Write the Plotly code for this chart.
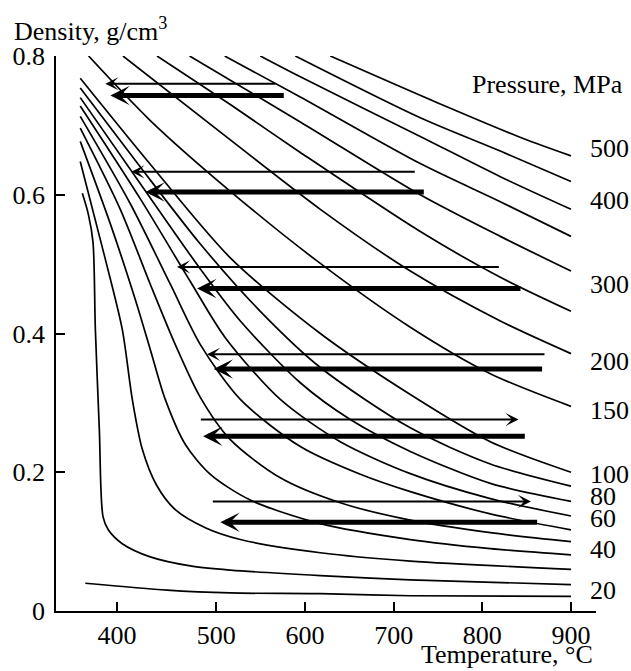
import numpy as np
import plotly.graph_objects as go

# ---------------- data (temperature in °C, density in g/cm3) ----------------
curve_T = [
    [628.6, 756.0, 846.2, 900],
    [589.1, 730.0, 820.3, 900],
    [549.6, 594.7, 730.0, 820.3, 900],
    [509.4, 594.7, 730.0, 820.3, 900],
    [473.1, 594.7, 730.0, 820.3, 900],
    [440.3, 515.8, 594.7, 730.0, 820.3, 900],
    [406.0, 515.8, 617.3, 718.8, 820.3, 900],
    [371.4, 433.5, 515.8, 617.3, 718.8, 809.0, 900],
    [363.0, 433.5, 515.8, 617.3, 718.8, 809.0, 900],
    [363.0, 423.5, 483.9, 549.6, 617.3, 718.8, 809.0, 900],
    [363.0, 423.5, 483.9, 527.1, 594.7, 651.1, 718.8, 809.0, 900],
    [363.0, 423.5, 473.8, 510.1, 572.2, 639.8, 718.8, 809.0, 900],
    [363.0, 413.4, 453.7, 483.9, 527.1, 594.7, 662.4, 718.8, 809.0, 900],
    [363.0, 403.3, 433.5, 458.7, 483.9, 515.8, 572.2, 639.8, 718.8, 809.0, 900],
    [363.0, 393.3, 418.4, 433.5, 448.6, 468.8, 494.0, 538.3, 617.3, 718.8, 809.0, 900],
    [363.0, 387.2, 405.3, 415.4, 425.5, 439.6, 458.7, 488.9, 527.1, 617.3, 718.8, 900],
    [365.1, 371.1, 375.8, 378.2, 382.2, 385.9, 391.2, 405.3, 433.5, 473.8, 515.8, 617.3, 718.8, 900],
    [368.1, 450.4, 515.8, 617.3, 718.8, 900],
]
curve_rho = [
    [0.800, 0.729, 0.681, 0.656],
    [0.800, 0.711, 0.663, 0.619],
    [0.800, 0.770, 0.684, 0.626, 0.579],
    [0.800, 0.741, 0.645, 0.590, 0.540],
    [0.800, 0.705, 0.600, 0.540, 0.490],
    [0.800, 0.730, 0.661, 0.547, 0.481, 0.432],
    [0.800, 0.679, 0.579, 0.490, 0.418, 0.371],
    [0.800, 0.707, 0.605, 0.501, 0.409, 0.342, 0.295],
    [0.768, 0.644, 0.509, 0.400, 0.312, 0.244, 0.200],
    [0.754, 0.640, 0.529, 0.432, 0.351, 0.264, 0.212, 0.180],
    [0.740, 0.616, 0.493, 0.418, 0.329, 0.276, 0.230, 0.184, 0.158],
    [0.728, 0.594, 0.475, 0.394, 0.305, 0.244, 0.198, 0.162, 0.137],
    [0.713, 0.587, 0.471, 0.384, 0.305, 0.237, 0.197, 0.172, 0.140, 0.117],
    [0.696, 0.579, 0.471, 0.384, 0.308, 0.247, 0.192, 0.156, 0.131, 0.113, 0.100],
    [0.677, 0.558, 0.449, 0.377, 0.305, 0.240, 0.197, 0.160, 0.126, 0.103, 0.090, 0.081],
    [0.648, 0.513, 0.406, 0.305, 0.233, 0.182, 0.146, 0.120, 0.103, 0.084, 0.072, 0.060],
    [0.602, 0.572, 0.532, 0.406, 0.262, 0.136, 0.117, 0.097, 0.078, 0.065, 0.059, 0.051, 0.045, 0.038],
    [0.040, 0.030, 0.026, 0.025, 0.022, 0.021],
]

pressure_labels = ["500", "400", "300", "200", "150", "100", "80", "60", "40", "20"]
pressure_label_rho = [0.666, 0.591, 0.471, 0.360, 0.289, 0.197, 0.165, 0.134, 0.088, 0.030]
pressure_label_T = 919.5

# arrows: tail temperature, tip temperature, density, kind
arrow_tail_T = [568.4, 577.8, 725.5, 735.7, 820.3, 844.7, 871.8, 869.1, 482.9, 849.6, 495.0, 863.5]
arrow_tip_T = [388.2, 393.3, 414.4, 428.5, 460.4, 480.6, 490.6, 497.3, 840.9, 486.6, 854.9, 504.5]
arrow_rho = [0.760, 0.743, 0.633, 0.604, 0.496, 0.465, 0.370, 0.349, 0.276, 0.252, 0.158, 0.128]
arrow_thick = [False, True, False, True, False, True, False, True, False, True, False, True]

x_ticks = [400, 500, 600, 700, 800, 900]
y_ticks = [0, 0.2, 0.4, 0.6, 0.8]
y_tick_text = ["0", "0.2", "0.4", "0.6", "0.8"]


# the original drawing has a stretched 400–500 interval
def warp(t):
    t = np.asarray(t, dtype=float)
    return np.where(t >= 500, t, 500 + (t - 500) * 1.12)


FONT = "Liberation Serif"
fig = go.Figure()

for T, r in zip(curve_T, curve_rho):
    fig.add_trace(go.Scatter(
        x=warp(T), y=r, mode="lines",
        line=dict(color="black", width=1.7, shape="spline", smoothing=0.8),
        cliponaxis=False, showlegend=False, hoverinfo="skip"))

for tail, tip, r, thick in zip(arrow_tail_T, arrow_tip_T, arrow_rho, arrow_thick):
    fig.add_annotation(
        x=float(warp(tip)), y=r, ax=float(warp(tail)), ay=r,
        xref="x", yref="y", axref="x", ayref="y", text="",
        showarrow=True, arrowhead=3, arrowcolor="black",
        arrowwidth=5 if thick else 2, arrowsize=0.65 if thick else 1.1,
        standoff=0)

for lab, r in zip(pressure_labels, pressure_label_rho):
    fig.add_annotation(x=float(warp(pressure_label_T)), y=r, xref="x", yref="y",
                       text=lab, showarrow=False, xanchor="left", yanchor="middle",
                       font=dict(family=FONT, size=26, color="black"))

fig.add_annotation(x=1.054, y=0.9495, xref="paper", yref="paper", text="Pressure, MPa",
                   showarrow=False, xanchor="right", yanchor="middle",
                   font=dict(family=FONT, size=26, color="black"))
fig.add_annotation(x=-0.081, y=1.047, xref="paper", yref="paper", text="Density, g/cm<sup>3</sup>",
                   showarrow=False, xanchor="left", yanchor="middle",
                   font=dict(family=FONT, size=26, color="black"))
fig.add_annotation(x=0.998, y=-0.079, xref="paper", yref="paper", text="Temperature, °C",
                   showarrow=False, xanchor="right", yanchor="middle",
                   font=dict(family=FONT, size=26, color="black"))

fig.update_layout(
    width=631, height=671,
    margin=dict(l=56, r=35, t=56, b=60),
    paper_bgcolor="white", plot_bgcolor="white",
    font=dict(family=FONT, size=26, color="black"),
    xaxis=dict(range=[319.2, 928.2], tickvals=warp(x_ticks).tolist(),
               ticktext=[str(v) for v in x_ticks],
               showgrid=False, zeroline=False, showline=True, linecolor="black",
               linewidth=1.5, ticks="inside", ticklen=9, tickwidth=1.5, tickcolor="black",
               ticklabelstandoff=0),
    yaxis=dict(range=[0, 0.8], tickvals=y_ticks, ticktext=y_tick_text,
               showgrid=False, zeroline=False, showline=True, linecolor="black",
               linewidth=1.5, ticks="inside", ticklen=9, tickwidth=1.5, tickcolor="black",
               ticklabelstandoff=4),
)

fig.write_html("out.html", config={"displayModeBar": False},
               post_script="document.body.style.margin='0px';document.body.style.overflow='hidden';")
